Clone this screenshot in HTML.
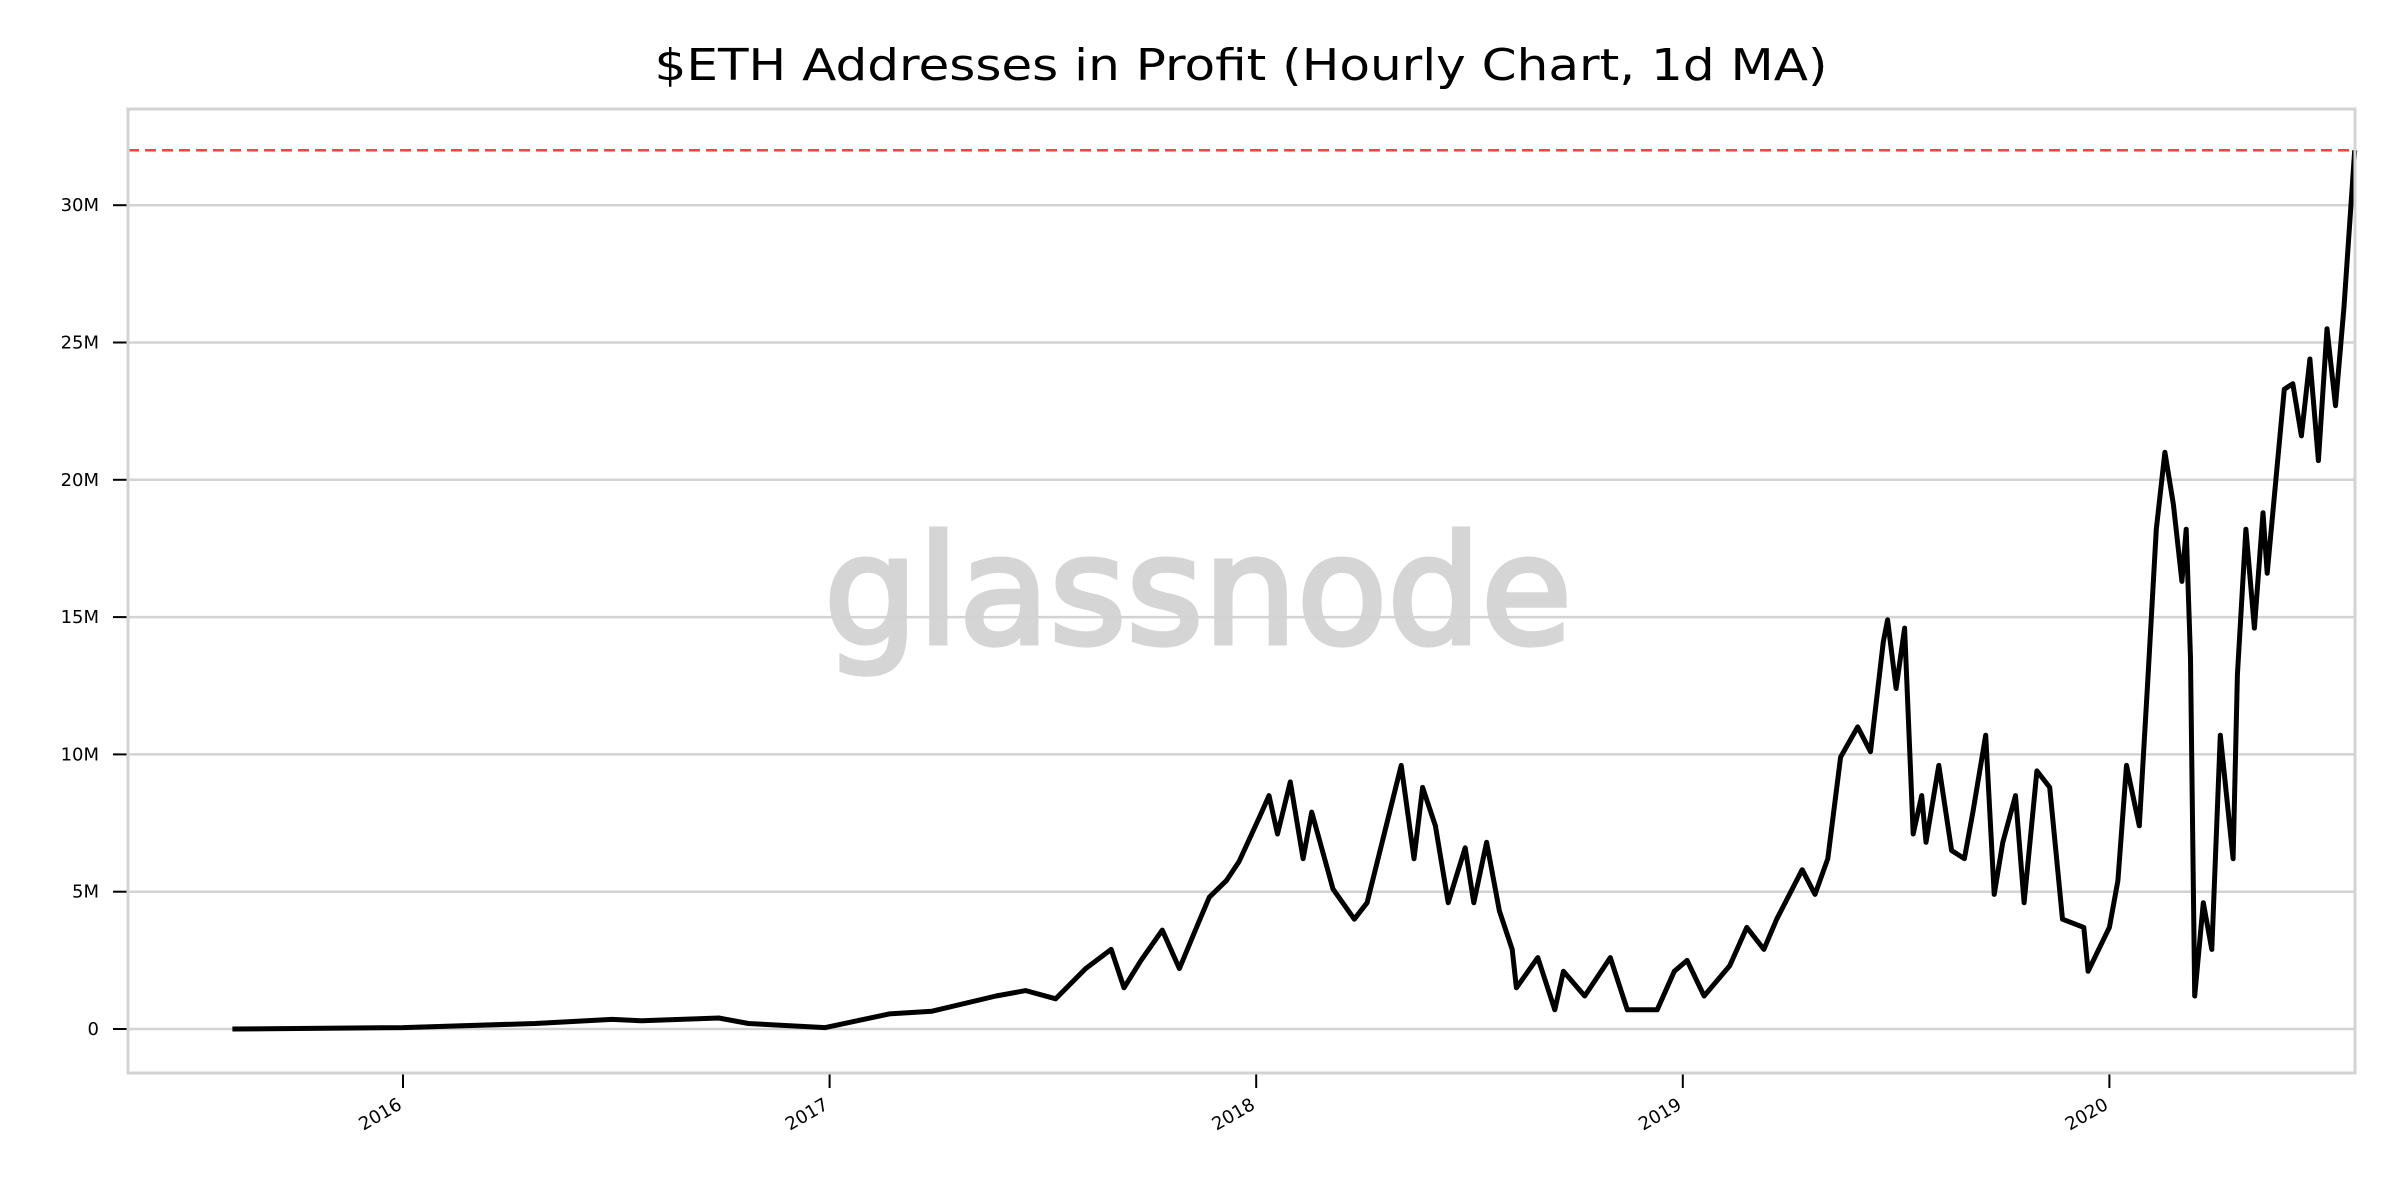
<!DOCTYPE html>
<html><head><meta charset="utf-8"><style>html,body{margin:0;padding:0;background:#fff}svg{display:block}</style></head>
<body>
<svg id="chart" width="2400" height="1200" xmlns="http://www.w3.org/2000/svg" font-family="'DejaVu Sans','Liberation Sans',sans-serif">
<rect width="2400" height="1200" fill="#fff"/>
<text x="1241" y="80" font-size="44" text-anchor="middle" textLength="1173" lengthAdjust="spacingAndGlyphs">$ETH Addresses in Profit (Hourly Chart, 1d MA)</text>
<text x="824" y="643" font-size="150" fill="#d5d5d5" stroke="#d5d5d5" stroke-width="5" textLength="748" lengthAdjust="spacingAndGlyphs">glassnode</text>
<g id="grid"></g>
<g id="ticks"></g>
<g id="series"></g>
<rect x="128" y="109" width="2227" height="964" fill="none" stroke="#d3d3d3" stroke-width="3"/>
</svg>
<script>
const yTicks = [0, 5, 10, 15, 20, 25, 30];
const yTickLabels = ["0", "5M", "10M", "15M", "20M", "25M", "30M"];
const xTicks = [2016, 2017, 2018, 2019, 2020];
const xTickLabels = ["2016", "2017", "2018", "2019", "2020"];
const athValue = 32;
const dates = [2015.60,2016.0,2016.31,2016.49,2016.56,2016.74,2016.81,2016.99,2017.14,2017.24,2017.39,2017.46,2017.53,2017.60,2017.66,2017.69,2017.73,2017.78,2017.82,2017.86,2017.89,2017.93,2017.96,2018.01,2018.03,2018.05,2018.08,2018.11,2018.13,2018.18,2018.23,2018.26,2018.30,2018.34,2018.37,2018.39,2018.42,2018.45,2018.49,2018.51,2018.54,2018.57,2018.60,2018.61,2018.66,2018.70,2018.72,2018.77,2018.83,2018.87,2018.94,2018.98,2019.01,2019.05,2019.11,2019.15,2019.19,2019.22,2019.28,2019.31,2019.34,2019.37,2019.41,2019.44,2019.47,2019.48,2019.50,2019.52,2019.54,2019.56,2019.57,2019.60,2019.63,2019.66,2019.68,2019.71,2019.73,2019.75,2019.78,2019.80,2019.83,2019.86,2019.89,2019.94,2019.95,2020.0,2020.02,2020.04,2020.07,2020.09,2020.11,2020.13,2020.15,2020.17,2020.18,2020.19,2020.20,2020.22,2020.24,2020.26,2020.29,2020.30,2020.32,2020.34,2020.36,2020.37,2020.41,2020.43,2020.45,2020.47,2020.49,2020.51,2020.53,2020.55,2020.575];
const values = [0,0.05,0.2,0.35,0.3,0.4,0.2,0.05,0.55,0.65,1.2,1.4,1.1,2.2,2.9,1.5,2.5,3.6,2.2,3.7,4.8,5.4,6.1,7.8,8.5,7.1,9.0,6.2,7.9,5.1,4.0,4.6,7.1,9.6,6.2,8.8,7.4,4.6,6.6,4.6,6.8,4.3,2.9,1.5,2.6,0.7,2.1,1.2,2.6,0.7,0.7,2.1,2.5,1.2,2.3,3.7,2.9,4.0,5.8,4.9,6.2,9.9,11.0,10.1,14.1,14.9,12.4,14.6,7.1,8.5,6.8,9.6,6.5,6.2,7.9,10.7,4.9,6.8,8.5,4.6,9.4,8.8,4.0,3.7,2.1,3.7,5.4,9.6,7.4,12.7,18.2,21.0,19.1,16.3,18.2,13.5,1.2,4.6,2.9,10.7,6.2,12.9,18.2,14.6,18.8,16.6,23.3,23.5,21.6,24.4,20.7,25.5,22.7,26.3,32.0];

const X = t => 403 + (t - 2016) * 426.6;
const Y = v => 1029 - v * 27.46;
const NS = "http://www.w3.org/2000/svg";
function mk(tag, attrs, parent) {
  const e = document.createElementNS(NS, tag);
  for (const k in attrs) e.setAttribute(k, attrs[k]);
  parent.appendChild(e);
  return e;
}
const grid = document.getElementById('grid');
const ticks = document.getElementById('ticks');
const series = document.getElementById('series');

yTicks.forEach((v, i) => {
  const g = mk('line', {x1: 128, x2: 2355, y1: Y(v), y2: Y(v), stroke: '#d3d3d3', 'stroke-width': 2.5}, grid);
  
  
  const t = mk('line', {x1: 113, x2: 128, y1: Y(v), y2: Y(v), stroke: '#000', 'stroke-width': 2}, ticks);
  
  
  const l = mk('text', {x: 99, y: Y(v) + 6, 'font-size': 18, 'text-anchor': 'end'}, ticks);
  l.textContent = yTickLabels[i];
  
  
});

xTicks.forEach((t, i) => {
  const x = X(t);
  const tk = mk('line', {x1: x, x2: x, y1: 1073, y2: 1088, stroke: '#000', 'stroke-width': 2}, ticks);
  
  
  const l = mk('text', {x: x, y: 1108, 'font-size': 18, 'text-anchor': 'end', transform: `rotate(-30 ${x} 1108)`}, ticks);
  l.textContent = xTickLabels[i];
  
  
});

const ath = mk('line', {x1: 128, x2: 2355, y1: Y(athValue), y2: Y(athValue), stroke: '#ff4040', 'stroke-width': 2.5, 'stroke-dasharray': '11 6'}, series);



const d = dates.map((t, i) => (i ? 'L' : 'M') + X(t).toFixed(1) + ' ' + Y(values[i]).toFixed(1)).join(' ');
const p = mk('path', {d: d, fill: 'none', stroke: '#000', 'stroke-width': 5, 'stroke-linejoin': 'round'}, series);


</script>
</body></html>
